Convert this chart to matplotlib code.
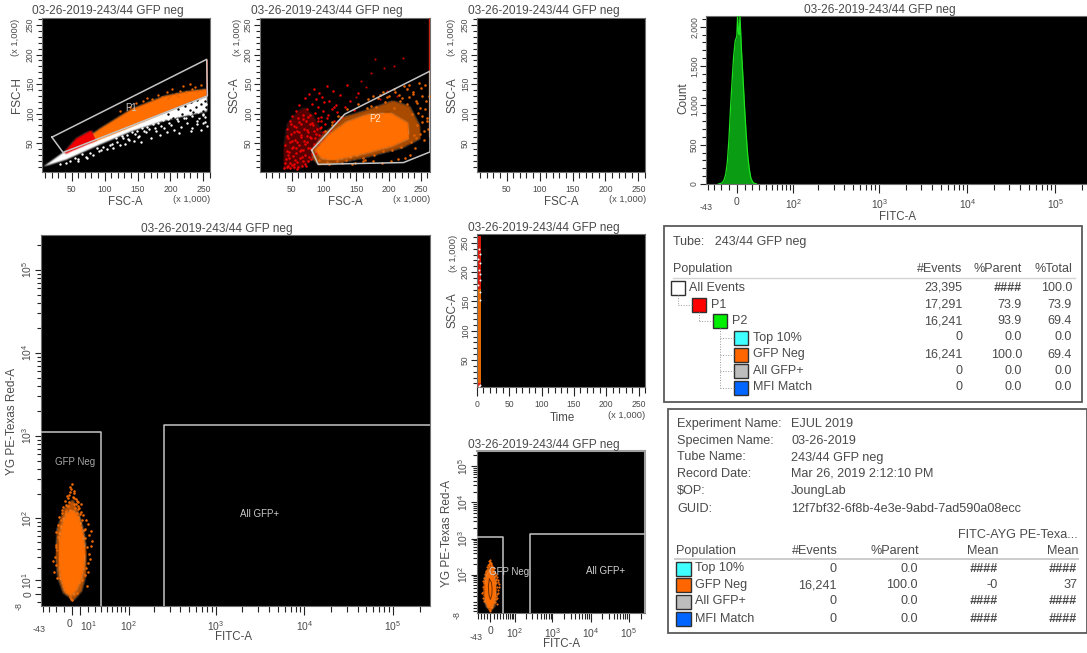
"""
BD FACS style sheet, GFP neg tube.
"""
import numpy as np
import matplotlib
matplotlib.use('Agg')
import matplotlib.pyplot as plt
from matplotlib.patches import Rectangle

plt.rcParams['font.family'] = ['Liberation Sans', 'DejaVu Sans']
plt.rcParams['mathtext.default'] = 'regular'

W, H = 1087, 653
TXT = '#4a4a4a'
ORANGE = '#ff6e00'
TITLE = '03-26-2019-243/44 GFP neg'

# FSC-A / FSC-H
p1_gate_x = [20, 255, 256, 37, 20]
p1_gate_y = [60, 192, 130, 34, 60]
white_band_x = [7, 37, 256, 256, 191, 141, 92, 42]
white_band_y = [10, 34, 130, 104, 88, 70, 47, 22]
orange_band_x = [72, 92, 141, 191, 226, 256, 256, 191, 132, 80]
orange_band_y = [58, 74, 108, 130, 138, 142, 130, 101, 73, 50]
red_band_x = [38, 57, 80, 88, 42]
red_band_y = [34, 58, 72, 54, 32]
p1_white_x = [33, 41, 48, 55, 60, 66, 72, 78, 83, 88, 92, 97, 103, 108, 113, 119, 124, 131, 137, 144, 150, 156, 163, 171,
              178, 184, 190, 195, 201, 206, 211, 216, 221, 225, 229, 233, 236, 240, 243, 246, 249, 252, 254, 255, 238, 222,
              207, 196, 168, 152, 128, 112, 95, 74, 59, 244, 231, 248, 213, 201,
              118, 126, 134, 142, 149, 157, 165, 173, 181, 189, 197, 205, 213, 220, 228, 235, 242, 249, 253,
              135, 146, 160, 176, 186, 198, 210, 224, 232, 241, 250]
p1_white_y = [14, 17, 19, 24, 20, 31, 27, 33, 29, 42, 36, 44, 40, 47, 41, 52, 47, 48, 56, 53, 60, 51, 68, 59,
              71, 64, 76, 69, 81, 72, 88, 77, 93, 84, 99, 76, 104, 82, 110, 73, 97, 86, 116, 79, 120, 112,
              104, 92, 74, 62, 58, 49, 38, 25, 23, 92, 70, 106, 67, 96,
              58, 62, 64, 69, 71, 76, 78, 82, 84, 89, 90, 95, 98, 100, 104, 107, 103, 100, 94,
              57, 66, 70, 75, 79, 84, 90, 92, 96, 88, 84]
p1_black_x = [196, 204, 211, 217, 222, 226, 231, 234, 238, 241, 244, 247, 250, 252, 254, 229, 218, 208, 237, 246]
p1_black_y = [99, 92, 108, 99, 113, 91, 119, 102, 111, 123, 96, 117, 105, 122, 111, 106, 88, 84, 93, 86]
p1_orange_x = [124, 139, 148, 158, 165, 172, 181, 187, 194, 199, 203, 208, 214, 219, 224, 229, 232, 237, 241, 246, 212, 196]
p1_orange_y = [104, 112, 118, 121, 127, 124, 131, 128, 136, 130, 141, 133, 138, 146, 136, 150, 141, 145, 139, 148, 129, 127]
p1_edge_y = [130, 190]

# FSC-A / SSC-A
p2_gate_x = [81, 132, 264, 264, 223, 91, 81]
p2_gate_y = [38, 99, 172, 35, 17, 14, 38]
halo_x = [80, 100, 130, 166, 207, 233, 249, 250, 222, 166, 114, 92, 82]
halo_y = [38, 66, 94, 106, 122, 112, 78, 58, 42, 26, 14, 12, 24]
core_x = [86, 107, 135, 166, 202, 230, 232, 207, 166, 114, 96]
core_y = [38, 64, 86, 98, 102, 84, 58, 45, 33, 20, 24]
red_cloud_x = [37, 60, 82, 100, 84, 70, 60, 44, 37]
red_cloud_y = [6, 5, 22, 60, 96, 110, 104, 84, 40]
p2_red_x = [38, 40, 41, 43, 44, 45, 46, 47, 48, 49, 50, 51, 52, 53, 54, 55, 56, 57, 58, 59, 60, 61, 62, 63, 64, 65, 66, 67, 68, 69,
            70, 71, 72, 73, 74, 75, 76, 77, 78, 79, 80, 81, 82, 83, 84, 85, 86, 87, 88, 89, 90, 91, 92, 93, 94, 95, 96, 97, 98, 99,
            100, 102, 104, 106, 108, 110, 112, 114, 116, 118, 120, 124, 128, 132, 136, 141, 147, 152,
            39, 42, 43, 46, 47, 49, 50, 52, 53, 55, 56, 58, 59, 61, 63, 64, 66, 68, 69, 71, 73, 75, 76, 78, 80, 82, 85, 87, 90, 93, 95, 98,
            42, 45, 48, 51, 54, 57, 60, 62, 65, 67, 70, 72, 74, 77, 79, 83, 86, 89, 92, 96, 101, 105, 109, 115, 121]
p2_red_y = [8, 47, 23, 74, 12, 58, 35, 88, 16, 66, 41, 96, 28, 79, 9, 55, 104, 33, 70, 18, 92, 47, 115, 25, 83, 60, 11, 97, 38, 74,
            126, 29, 88, 52, 108, 19, 69, 134, 42, 98, 58, 117, 31, 80, 142, 48, 101, 66, 124, 36, 87, 112, 54, 135, 76, 95, 44, 128, 105, 68,
            119, 83, 147, 97, 121, 72, 108, 139, 88, 115, 102, 131, 95, 112, 148, 122, 106, 135,
            17, 36, 62, 24, 51, 83, 13, 44, 69, 22, 78, 52, 6, 86, 37, 64, 27, 90, 53, 15, 73, 41, 95, 60, 23, 84, 70, 34, 92, 63, 78, 54,
            9, 30, 7, 53, 15, 42, 10, 68, 39, 19, 48, 11, 62, 26, 82, 41, 58, 74, 46, 88, 56, 93, 65, 111, 87]
p2_far_x = [150, 158, 165, 172, 179, 186, 193, 198, 208, 213, 222, 228]
p2_far_y = [128, 156, 145, 168, 193, 124, 177, 138, 181, 129, 195, 142]
p2_rim_x = [92, 104, 112, 121, 128, 136, 144, 152, 160, 168, 176, 184, 192, 200, 208, 216, 224, 232, 238, 243, 248, 252, 256, 260,
            249, 241, 233, 225, 214, 203, 190, 176, 161, 148, 134, 120, 107, 99, 236, 228, 217, 209, 195, 181, 167, 244, 254, 247,
            172, 186, 197, 210, 221, 229, 238, 244, 251, 257, 261, 258, 252, 246, 239, 231, 255, 259, 262, 250,
            140, 151, 163, 178, 192, 205, 219, 235, 243, 126, 113, 102]
p2_rim_y = [22, 18, 80, 96, 16, 107, 14, 116, 20, 124, 130, 126, 136, 129, 142, 132, 147, 128, 137, 122, 110, 96, 148, 88,
            66, 42, 30, 25, 23, 20, 17, 19, 24, 17, 21, 19, 15, 29, 100, 116, 122, 110, 120, 112, 109, 80, 70, 152,
            113, 131, 128, 137, 126, 141, 134, 118, 129, 108, 74, 122, 86, 101, 64, 149, 56, 93, 130, 144,
            26, 30, 22, 30, 37, 38, 44, 52, 58, 95, 86, 70]
p2_edge_red = [172, 262]
p2_edge_orange = [60, 172]

# Time / SSC-A
time_strip = [0, 6]
ssc_orange = [10, 172]
ssc_red = [172, 262]
ssc_bottom = [4, 10]
p6_white_x = [3, 4, 2, 5, 4, 3, 5, 2, 4, 3, 5, 4]
p6_white_y = [5, 8, 178, 186, 197, 204, 216, 222, 231, 240, 166, 152]

# FITC-A histogram
fitc_bins = [-24, -20, -18, -16, -14, -12, -10, -8, -6, -4, -2, 0, 1, 2, 3, 4, 6, 8, 10, 12, 14, 16, 18, 20, 22, 26]
fitc_count = [0, 10, 25, 60, 130, 280, 560, 950, 1300, 1620, 1820, 1880, 2130, 1930, 1900, 2137, 1680, 1320, 950, 620, 360, 190, 80, 35, 12, 0]

# FITC-A / YG PE-Texas Red-A
neg_gate_x = [-43, 39, 39]
neg_gate_y = [1100, 1100, -8]
pos_gate_x = [261, 261, 262144]
pos_gate_y = [-8, 1350, 1350]
gfp_core_x = [0.8, 9.2, 13.9, 16.9, 15.6, 11.7, 5, -2.1, -9.2, -14.8, -17.8, -16.9, -13.5, -7.5]
gfp_core_y = [129, 102, 66, 39, 21, 10.5, 2.3, -1.2, 2.3, 13, 28, 48, 77, 112]
gfp_halo_x = [1, 8, 15, 19, 18, 12, 2, -11, -18, -21, -19, -10]
gfp_halo_y = [170, 120, 70, 35, 14, 2, -4, 1, 12, 32, 74, 130]
gfp_stray_x = [-3, 2, -6, 5, -1, 7, -9, 3, -5, 9, -12, 11, -4, 1, 6, -8, 4, -2, 8, -11, 13, -7, 10, -14, 15, -10, 12, -16, 17, -13,
               -19, 19, -17, 22, -20, 21, -15, 16, -18, 18, -6, 6, -3, 3, 0, -9, 9, -12, 12, -1, 14, -21, 24, -14, 20, -8, 5, 2, -4, 7,
               -23, -22, -20, -24, -21, 23, 25, 22, 26, 21, -18, -16, 18, 17, -11, 11, -5, 6, -2, 3, -7, 8, 0, 10, -13, 14, -19, 19]
gfp_stray_y = [240, 205, 188, 172, 228, 158, 165, 149, 140, 133, 128, 120, 160, 184, 118, 116, 136, 125, 105, 102, 95, 112, 88, 80, 72, 92, 60, 66, 56, 48,
               38, 42, 28, 34, 22, 24, 12, 14, 58, 20, 2, 1, -2, 0, -4, 8, 9, 18, 10, -3, 36, 42, 70, 96, 84, 145, 150, 215, 195, 130,
               16, 30, 46, 26, 68, 28, 44, 62, 52, 16, 82, 104, 96, 74, 138, 152, 176, 162, 210, 178, 124, 142, 260, 112, 118, 110, 12, 6]
ring_x = [-3, 3, 5, 4, 0, -4, -6, -3]
ring_y = [75, 60, 38, 22, 14, 22, 45, 75]

lin_major = [50, 100, 150, 200, 250]
lin_minor = [10, 20, 30, 40, 60, 70, 80, 90, 110, 120, 130, 140, 160, 170, 180, 190, 210, 220, 230, 240, 260]
log_major = [100, 1000, 10000, 100000]
log_minor = [10, 20, 30, 40, 50, 60, 70, 80, 90, 200, 300, 400, 500, 600, 700, 800, 900,
             2000, 3000, 4000, 5000, 6000, 7000, 8000, 9000, 20000, 30000, 40000, 50000, 60000, 70000, 80000, 90000, 200000]

# stats tables
pop_names = ['All Events', 'P1', 'P2', 'Top 10%', 'GFP Neg', 'All GFP+', 'MFI Match']
pop_events = ['23,395', '17,291', '16,241', '0', '16,241', '0', '0']
pop_parent = ['####', '73.9', '93.9', '0.0', '100.0', '0.0', '0.0']
pop_total = ['100.0', '73.9', '69.4', '0.0', '69.4', '0.0', '0.0']
pop_colors = ['white', '#ff0000', '#00ee00', '#40ffff', '#ff6600', '#bdbdbd', '#0066ff']
pop_level = [0, 1, 2, 3, 3, 3, 3]
info_keys = ['Experiment Name:', 'Specimen Name:', 'Tube Name:', 'Record Date:', '$OP:', 'GUID:']
info_vals = ['EJUL 2019', '03-26-2019', '243/44 GFP neg', 'Mar 26, 2019 2:12:10 PM', 'JoungLab',
             '12f7bf32-6f8b-4e3e-9abd-7ad590a08ecc']
sub_names = ['Top 10%', 'GFP Neg', 'All GFP+', 'MFI Match']
sub_events = ['0', '16,241', '0', '0']
sub_parent = ['0.0', '100.0', '0.0', '0.0']
sub_fitc = ['####', '-0', '####', '####']
sub_ygpe = ['####', '37', '####', '####']
sub_colors = ['#40ffff', '#ff6600', '#bdbdbd', '#0066ff']


def soft(img, dpi):
	# the original is a blurry screenshot, so smear the filled clouds a little
	pad = 3
	a = np.pad(img, [(pad, pad), (pad, pad), (0, 0)], 'constant')
	for axis in (0, 1):
		a = (np.roll(a, 1, axis) + 2 * a + np.roll(a, -1, axis)) / 4
	return a, -pad, -pad


def plot_box(fig, left, right, top, bottom):
	ax = fig.add_axes([left / W, 1 - bottom / H, (right - left) / W, (bottom - top) / H])
	ax.set_facecolor('black')
	for s in ax.spines.values():
		s.set_color('#707070')
		s.set_linewidth(0.8)
	ax.tick_params(which='both', width=0.8, color='#222222', labelsize=6.2, labelcolor=TXT)
	ax.tick_params(axis='x', which='major', length=6.5, pad=3)
	ax.tick_params(axis='x', which='minor', length=4)
	ax.tick_params(axis='y', which='major', length=4.5, pad=0.5)
	ax.tick_params(axis='y', which='minor', length=3)
	return ax


def lin_ticks(axis, rotate=False, zero=False):
	axis.set_ticks(([0] if zero else []) + lin_major)
	axis.set_ticks(lin_minor, minor=True)
	axis.set_ticklabels((['0'] if zero else []) + [str(v) for v in lin_major],
		**({'rotation': 90, 'va': 'center'} if rotate else {}))


def bi_ticks(axis, negs, extra=(), extra_labels=(), rotate=False):
	major = list(extra) + log_major
	labels = list(extra_labels) + ['$10^{%d}$' % d for d in (2, 3, 4, 5)]
	axis.set_ticks(major)
	axis.set_ticks(negs + log_minor, minor=True)
	axis.set_ticklabels(labels, fontsize=7.4, **({'rotation': 90, 'va': 'center'} if rotate else {}))


def specks(ax, x, y, c, s=2.2):
	ax.scatter(x, y, s=s, c=c, marker='o', linewidths=0, zorder=3)


def cloud(ax, x, y, c, z=2, **kw):
	for patch in ax.fill(x, y, color=c, lw=0, zorder=z, **kw):
		patch.set_agg_filter(soft)


def gate(ax, x, y):
	ax.plot(x, y, color='#c4c4c4', lw=1.1, zorder=5, clip_on=True)


def put(ov, x, y, s, size=8, rot=0, ha='center', va='center', **kw):
	ov.text(x, y, s, fontsize=size, rotation=rot, ha=ha, va=va, color=kw.pop('color', TXT), **kw)


fig = plt.figure(figsize=(W / 100, H / 100), dpi=100, facecolor='white')

# --- FSC-H vs FSC-A
ax1 = plot_box(fig, 42, 210, 18, 172)
ax1.set_xlim(5, 256)
ax1.set_ylim(1, 262)
cloud(ax1, white_band_x, white_band_y, 'white', 1)
specks(ax1, p1_white_x, p1_white_y, 'white', 3)
specks(ax1, p1_black_x, p1_black_y, 'black', 3)
cloud(ax1, orange_band_x, orange_band_y, ORANGE)
cloud(ax1, red_band_x, red_band_y, '#f00000')
specks(ax1, p1_orange_x, p1_orange_y, '#e86400', 3)
ax1.vlines(255, p1_edge_y[0], p1_edge_y[1], color='#d03010', lw=1.3, zorder=3)
gate(ax1, p1_gate_x, p1_gate_y)
ax1.text(140, 109, 'P1', color='#c8c8c8', fontsize=7, ha='center', va='center', zorder=6)
lin_ticks(ax1.xaxis)
lin_ticks(ax1.yaxis, rotate=True)

# --- SSC-A vs FSC-A
ax2 = plot_box(fig, 260, 430, 18, 172)
ax2.set_xlim(1, 264)
ax2.set_ylim(1, 262)
cloud(ax2, red_cloud_x, red_cloud_y, '#b00000', 1, alpha=0.5)
specks(ax2, p2_red_x, p2_red_y, '#f00000', 3.2)
specks(ax2, p2_far_x, p2_far_y, '#c00000', 2.5)
cloud(ax2, halo_x, halo_y, '#a84a00')
specks(ax2, p2_rim_x, p2_rim_y, '#e06000', 3.5)
cloud(ax2, core_x, core_y, ORANGE, 4)
ax2.vlines(263, p2_edge_red[0], p2_edge_red[1], color='#c82010', lw=1, zorder=3)
ax2.vlines(263, p2_edge_orange[0], p2_edge_orange[1], color='#b06028', lw=1, zorder=3)
gate(ax2, p2_gate_x, p2_gate_y)
ax2.text(179, 90, 'P2', color='#ffe4c8', fontsize=7, ha='center', va='center', zorder=6)
lin_ticks(ax2.xaxis)
lin_ticks(ax2.yaxis, rotate=True)

# --- empty SSC-A vs FSC-A
ax3 = plot_box(fig, 477, 645, 18, 172)
ax3.set_xlim(5, 256)
ax3.set_ylim(1, 262)
lin_ticks(ax3.xaxis)
lin_ticks(ax3.yaxis, rotate=True)

# --- histogram
ax4 = plot_box(fig, 706, 1092, 16, 184)
ax4.set_xscale('asinh', linear_width=48)
ax4.set_xlim(-43, 262144)
ax4.set_ylim(0, 2137)
ax4.fill_between(fitc_bins, fitc_count, color='#0a9c12', lw=0, zorder=2)
ax4.plot(fitc_bins, fitc_count, color='#1ee01e', lw=0.9, zorder=3)
bi_ticks(ax4.xaxis, [-40, -30, -20, -10], extra=[0], extra_labels=['0'])
ax4.set_yticks([0, 500, 1000, 1500, 2000])
ax4.set_yticks([100, 200, 300, 400, 600, 700, 800, 900, 1100, 1200, 1300, 1400, 1600, 1700, 1800, 1900, 2100], minor=True)
ax4.set_yticklabels(['0', '500', '1,000', '1,500', '2,000'], rotation=90, va='center')

# --- big dot plot
ax5 = plot_box(fig, 41, 430, 235, 606)
ax5.set_xscale('asinh', linear_width=48)
ax5.set_yscale('asinh', linear_width=24.6)
ax5.set_xlim(-43, 262144)
ax5.set_ylim(-8, 262144)
cloud(ax5, gfp_halo_x, gfp_halo_y, '#b85200')
cloud(ax5, gfp_core_x, gfp_core_y, ORANGE, 4)
specks(ax5, gfp_stray_x, gfp_stray_y, '#f06800', 3.5)
gate(ax5, neg_gate_x, neg_gate_y)
gate(ax5, pos_gate_x, pos_gate_y)
ax5.text(4, 490, 'GFP Neg', color='#a8a8a8', fontsize=7, ha='center', va='center', zorder=6)
ax5.text(3160, 112, 'All GFP+', color='#c8c8c8', fontsize=7, ha='center', va='center', zorder=6)
bi_ticks(ax5.xaxis, [-40, -30, -20, -10], extra=[0, 10], extra_labels=['0', '$10^{1}$'])
ax5.get_xticklabels()[0].set_ha('right')
ax5.get_xticklabels()[1].set_ha('left')
bi_ticks(ax5.yaxis, [-5, 5], extra=[0, 10], extra_labels=['0', '$10^{1}$'], rotate=True)

# --- SSC-A vs Time
ax6 = plot_box(fig, 477, 645, 234, 387)
ax6.set_xlim(0, 259)
ax6.set_ylim(4, 265)
ax6.fill_betweenx(ssc_orange, time_strip[0], time_strip[1], color='#e86a00', lw=0, zorder=2)
ax6.fill_betweenx(ssc_red, time_strip[0], time_strip[1], color='#d81808', lw=0, zorder=2)
ax6.fill_betweenx(ssc_bottom, time_strip[0], time_strip[1], color='#f02010', lw=0, zorder=2)
specks(ax6, p6_white_x, p6_white_y, 'white', 2)
lin_ticks(ax6.xaxis, zero=True)
lin_ticks(ax6.yaxis, rotate=True)

# --- small dot plot
ax7 = plot_box(fig, 477, 645, 451, 613)
ax7.set_xscale('asinh', linear_width=48)
ax7.set_yscale('asinh', linear_width=24.6)
ax7.set_xlim(-43, 262144)
ax7.set_ylim(-8, 262144)
cloud(ax7, gfp_halo_x, gfp_halo_y, '#c85800')
cloud(ax7, gfp_core_x, gfp_core_y, ORANGE, 4)
specks(ax7, gfp_stray_x, gfp_stray_y, '#f06800', 2.5)
ax7.plot(ring_x, ring_y, color='#703000', lw=0.7, zorder=5)
gate(ax7, neg_gate_x, neg_gate_y)
gate(ax7, pos_gate_x, pos_gate_y)
ax7.text(66, 123, 'GFP Neg', color='#d0d0d0', fontsize=7, ha='center', va='center', zorder=6)
ax7.text(25000, 125, 'All GFP+', color='#d0d0d0', fontsize=7, ha='center', va='center', zorder=6)
bi_ticks(ax7.xaxis, [-40, -30, -20, -10], extra=[0], extra_labels=['0'])
bi_ticks(ax7.yaxis, [-5, 0, 5], rotate=True)
for side in ('top', 'right'):
	ax7.spines[side].set_color('#a0a0a0')
	ax7.spines[side].set_linewidth(1.5)

# --- overlay in screen pixels for titles, labels and the stats boxes
ov = fig.add_axes([0, 0, 1, 1], facecolor='none', zorder=20)
ov.set_xlim(0, W)
ov.set_ylim(H, 0)
ov.axis('off')

for x, y in [(108, 11), (327, 11), (544, 11), (880, 10), (217, 229), (544, 228), (544, 445)]:
	put(ov, x, y, TITLE, 8.6)
for x, y, s in [(125, 202, 'FSC-A'), (345, 202, 'FSC-A'), (561, 202, 'FSC-A'), (898, 217, 'FITC-A'),
				(233, 637, 'FITC-A'), (562, 418, 'Time'), (561, 644, 'FITC-A')]:
	put(ov, x, y, s, 8.3)
for x, y, s in [(17, 95, 'FSC-H'), (235, 95, 'SSC-A'), (453, 95, 'SSC-A'), (683, 98, 'Count'),
				(12, 421, 'YG PE-Texas Red-A'), (452, 310, 'SSC-A'), (447, 533, 'YG PE-Texas Red-A')]:
	put(ov, x, y, s, 8.5, rot=90)
for x, y in [(192, 199), (412, 199), (628, 199), (627, 416)]:
	put(ov, x, y, '(x 1,000)', 6.7)
for x, y in [(16, 37), (237, 37), (452, 37), (453, 253)]:
	put(ov, x, y, '(x 1,000)', 6.7, rot=90)
for x, y in [(706, 208), (39, 629), (476, 637)]:
	put(ov, x, y, '-43', 6.4)
for x, y in [(19, 606), (457, 615)]:
	put(ov, x, y, '-8', 6.4, rot=90)

# population hierarchy box
ov.add_patch(Rectangle((664, 226), 418, 176, fc='white', ec='#5a5a5a', lw=1.3))
put(ov, 673, 242, 'Tube:   243/44 GFP neg', 9, ha='left')
put(ov, 673, 269, 'Population', 9, ha='left')
for x, s in [(962, '#Events'), (1022, '%Parent'), (1072, '%Total')]:
	put(ov, x, 269, s, 9, ha='right')
ov.plot([673, 1075], [277.5, 277.5], color='#d4d4d4', lw=1)
sw_left = [671, 692, 713, 734]
txt_left = [689, 711, 732, 753]
row_y = [288, 304.5, 321, 337.5, 354.5, 371, 387.5]
for y, name, ev, par, tot, col, lev in zip(row_y, pop_names, pop_events, pop_parent, pop_total, pop_colors, pop_level):
	if lev:
		ov.plot([sw_left[lev] - 14, sw_left[lev]], [y, y], color='#999999', lw=0.7, ls=':')
	ov.add_patch(Rectangle((sw_left[lev], y - 7), 14, 14, fc=col, ec='#303030', lw=1))
	put(ov, txt_left[lev], y, name, 9, ha='left')
	put(ov, 962, y, ev, 9, ha='right')
	put(ov, 1022, y, par, 9, ha='right', fontweight='bold' if par == '####' else 'normal', fontstyle='italic' if par == '####' else 'normal')
	put(ov, 1072, y, tot, 9, ha='right')
for x, y0, y1 in [(678, 295, 304.5), (699, 311.5, 321), (720, 328, 387.5)]:
	ov.plot([x, x], [y0, y1], color='#999999', lw=0.7, ls=':')

# tube info box
ov.add_patch(Rectangle((668, 409), 418.5, 224, fc='white', ec='#5a5a5a', lw=1.3))
for y, k, v in zip([424, 441, 457.5, 474, 491, 508.5], info_keys, info_vals):
	put(ov, 677, y, k.replace('$', r'\$'), 9.1, ha='left')
	put(ov, 791, y, v.replace('$', r'\$'), 9.1, ha='left')
put(ov, 1078, 535, 'FITC-AYG PE-Texa...', 9.1, ha='right')
put(ov, 676, 551, 'Population', 9.1, ha='left')
for x, s in [(838, '#Events'), (919, '%Parent'), (999, 'Mean'), (1078, 'Mean')]:
	put(ov, x, 551, s, 9.1, ha='right')
ov.plot([675, 1078], [559, 559], color='#cccccc', lw=1.4)
for y, name, ev, par, fi, yg, col in zip([568.5, 585, 601.5, 618.5], sub_names, sub_events, sub_parent, sub_fitc, sub_ygpe, sub_colors):
	ov.add_patch(Rectangle((676, y - 7), 14.5, 14, fc=col, ec='#303030', lw=1))
	put(ov, 695, y, name, 9.1, ha='left')
	put(ov, 837, y, ev, 9.1, ha='right')
	put(ov, 918, y, par, 9.1, ha='right')
	for x, s in [(998, fi), (1077, yg)]:
		hashes = s == '####'
		put(ov, x, y, s, 9.1, ha='right', fontweight='bold' if hashes else 'normal', fontstyle='italic' if hashes else 'normal')

fig.savefig('out.png', dpi=100)
